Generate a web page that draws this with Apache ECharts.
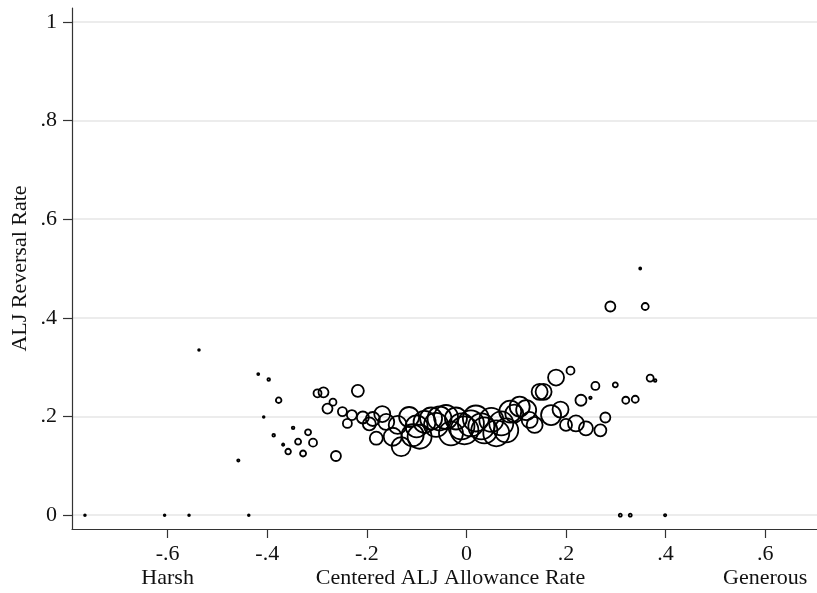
<!DOCTYPE html>
<html>
<head>
<meta charset="utf-8">
<script src="https://cdn.jsdelivr.net/npm/echarts@6/dist/echarts.min.js"></script>
<style>
html,body{margin:0;padding:0;background:#fff;}
#chart{width:817px;height:593px;}
</style>
</head>
<body>
<div id="chart"></div>
<script>
// Centered ALJ allowance rate (x), ALJ reversal rate (y), and number of cases (marker weight)
const allowanceRate = [
  -0.766,-0.606,-0.557,-0.537,-0.458,-0.437,-0.418,-0.407,-0.397,-0.387,
  -0.377,-0.368,-0.358,-0.348,-0.338,-0.328,-0.318,-0.308,-0.299,-0.287,
  -0.279,-0.268,-0.262,-0.249,-0.239,-0.230,-0.218,-0.208,-0.195,-0.188,
  -0.181,-0.169,-0.161,-0.148,-0.138,-0.131,-0.115,-0.108,-0.100,-0.094,
  -0.084,-0.071,-0.061,-0.054,-0.041,-0.031,-0.021,-0.010,-0.004,0.009,
  0.019,0.030,0.036,0.050,0.060,0.070,0.080,0.088,0.096,0.107,
  0.120,0.127,0.137,0.147,0.155,0.170,0.180,0.189,0.200,0.209,
  0.220,0.230,0.240,0.249,0.259,0.269,0.279,0.289,0.299,0.309,
  0.320,0.329,0.339,0.349,0.359,0.369,0.379,0.399
];
const reversalRate = [
  0,0,0,0.335,0.111,0,0.286,0.199,0.275,0.162,
  0.233,0.143,0.129,0.177,0.149,0.125,0.168,0.147,0.247,0.249,
  0.216,0.229,0.120,0.210,0.186,0.203,0.252,0.198,0.185,0.195,
  0.156,0.205,0.189,0.159,0.183,0.139,0.199,0.162,0.180,0.159,
  0.189,0.196,0.183,0.196,0.199,0.166,0.196,0.180,0.172,0.186,
  0.196,0.180,0.172,0.193,0.166,0.186,0.172,0.210,0.206,0.220,
  0.213,0.193,0.183,0.250,0.250,0.203,0.279,0.214,0.183,0.293,
  0.186,0.233,0.176,0.238,0.262,0.172,0.198,0.423,0.264,0,
  0.233,0,0.235,0.500,0.423,0.278,0.273,0
];
const caseCount = [
  3,3,3,3,5,3,4,3,7,7,
  31,5,31,7,36,36,36,64,64,100,
  100,49,100,81,81,100,144,144,169,196,
  169,256,256,324,324,361,400,484,484,576,
  484,484,576,576,576,576,484,676,784,676,
  676,676,676,576,676,576,576,484,324,400,
  400,256,256,256,256,400,256,256,144,64,
  256,121,196,6,64,144,100,100,25,9,
  49,9,49,4,49,49,7,5
];
const yTicks = [0, 0.2, 0.4, 0.6, 0.8, 1];
const xTicks = [-0.6, -0.4, -0.2, 0, 0.2, 0.4, 0.6];
const xEndLabels = {'-0.6': 'Harsh', '0.6': 'Generous'};

function fmt(v){
  const r = Math.round(v*10)/10;
  if (r === 0) return '0';
  if (r === 1) return '1';
  return String(r).replace('0.', '.');
}

const points = allowanceRate.map((x,i)=>[x, reversalRate[i], caseCount[i]]);

const FONT = '"Liberation Serif","Times New Roman",serif';
const chart = echarts.init(document.getElementById('chart'), null, {renderer:'canvas'});
chart.setOption({
  animation:false,
  backgroundColor:'#ffffff',
  grid:{left:72, right:0, top:8, bottom:64, containLabel:false, outerBoundsMode:'none'},
  xAxis:{
    type:'value', min:-0.792, max:0.704,
    axisLine:{show:true, onZero:false, lineStyle:{color:'#333', width:1.2}},
    axisTick:{show:true, customValues:xTicks, length:9, lineStyle:{color:'#333', width:1.2}},
    axisLabel:{customValues:xTicks, margin:13, fontFamily:FONT, fontSize:22, color:'#111', lineHeight:24,
      formatter:function(v){
        const k = String(Math.round(v*10)/10);
        const lab = (v<0? '-' + fmt(-v) : fmt(v));
        return xEndLabels[k] ? lab + '\n' + xEndLabels[k] : lab;
      }},
    splitLine:{show:false},
    name:'Centered ALJ Allowance Rate', nameLocation:'middle', nameGap:37, nameMoveOverlap:false,
    nameTextStyle:{fontFamily:FONT, fontSize:22, color:'#111', lineHeight:24, padding:[0,0,0,12]}
  },
  yAxis:{
    type:'value', min:-0.028, max:1.028,
    axisLine:{show:true, onZero:false, lineStyle:{color:'#333', width:1.2}},
    axisTick:{show:true, customValues:yTicks, length:9, lineStyle:{color:'#333', width:1.2}},
    axisLabel:{customValues:yTicks, margin:15, fontFamily:FONT, fontSize:22, color:'#111', formatter:fmt},
    splitLine:{show:true, lineStyle:{color:'#e6e6e6', width:1.5}},
    name:'ALJ Reversal Rate', nameLocation:'middle', nameGap:41, nameRotate:90, nameMoveOverlap:false,
    nameTextStyle:{fontFamily:FONT, fontSize:22, color:'#111'}
  },
  series:[{
    type:'scatter',
    data:points,
    symbol:'circle',
    symbolSize:function(d){ return Math.sqrt(d[2]); },
    itemStyle:{color:'rgba(0,0,0,0)', borderColor:'#000', borderWidth:1.8, opacity:1},
    emphasis:{disabled:true}
  }]
});
</script>
</body>
</html>
